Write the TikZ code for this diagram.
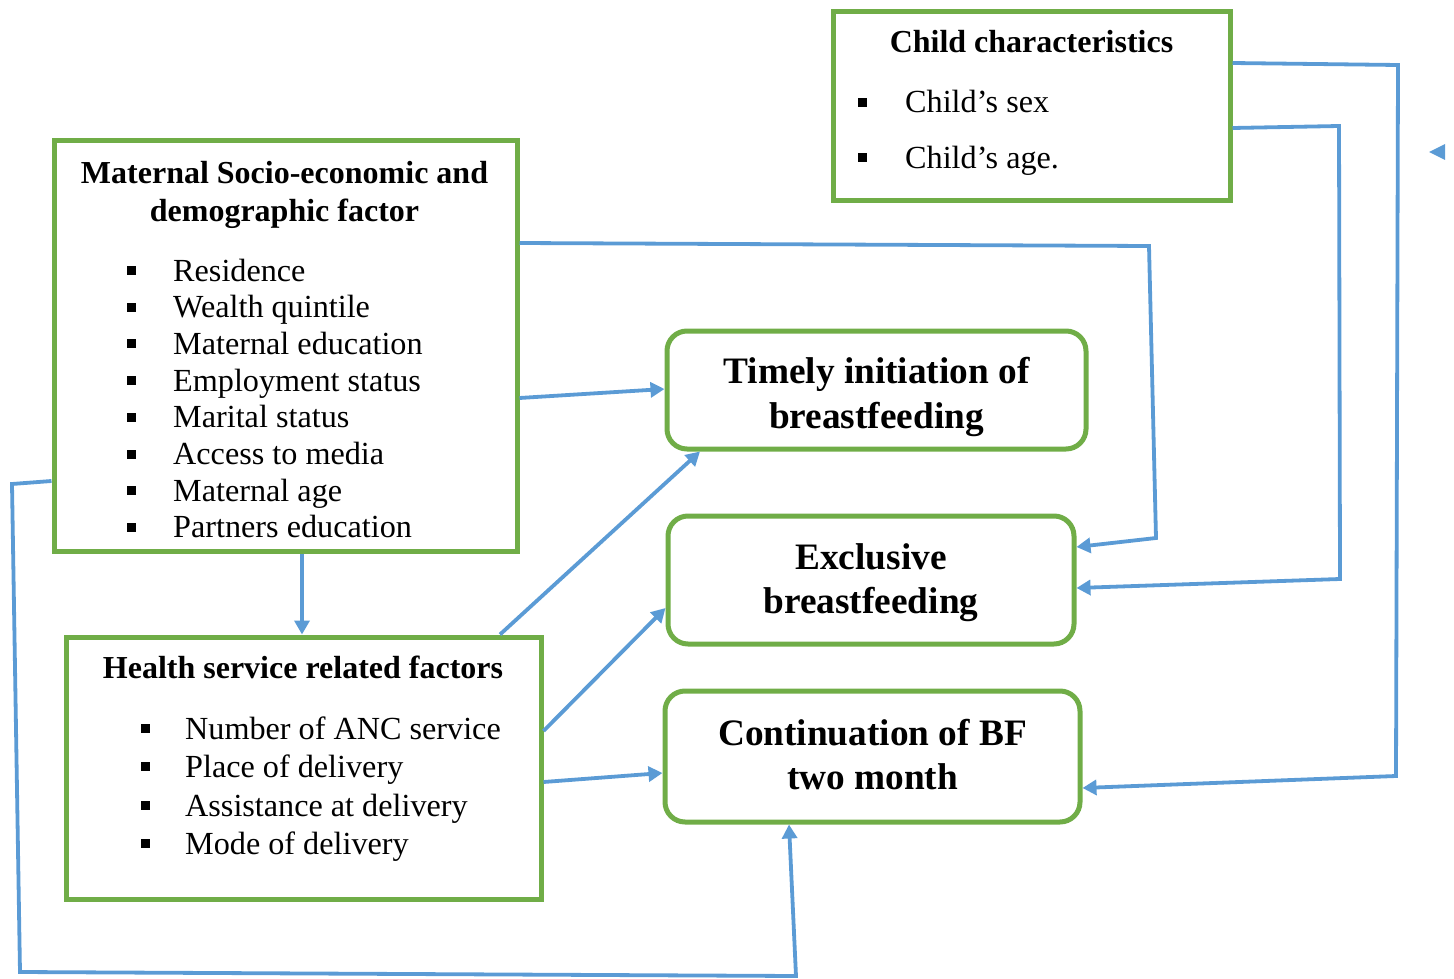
\documentclass[tikz,border=0pt]{standalone}
\usepackage{fontspec}
\setmainfont{Liberation Serif}
\usetikzlibrary{arrows.meta}
\definecolor{bgreen}{HTML}{70AD47}
\definecolor{lblue}{HTML}{5B9BD5}
\newcommand{\bsq}[1]{\makebox[#1][l]{\rule[6pt]{9pt}{9pt}}}
\begin{document}
\begin{tikzpicture}[x=1pt,y=-1pt,
  box/.style={draw=bgreen,line width=5pt,inner sep=0},
  rbox/.style={box,rounded corners=20pt},
  conn/.style={draw=lblue,line width=3.8pt},
  arr/.style={conn,-{Triangle[length=14pt,width=15pt]}},
  itm/.style={anchor=base west,inner sep=0,font=\fontsize{32.2}{36}\selectfont},
  ttl/.style={anchor=base,inner sep=0,font=\fontsize{32}{36}\selectfont\bfseries},
  outt/.style={anchor=base,inner sep=0,font=\fontsize{37.3}{44}\selectfont\bfseries}]
\useasboundingbox (0,0) rectangle (1454,979);

% boxes
\node[box,minimum width=397pt,minimum height=188pt] (child) at (1031.5,106) {};
\node[box,minimum width=463pt,minimum height=410pt] (mat) at (285.5,346) {};
\node[box,minimum width=475pt,minimum height=262pt] (hs) at (303.5,768) {};
\node[rbox,minimum width=419pt,minimum height=118pt] (tim) at (876.5,390) {};
\node[rbox,minimum width=406pt,minimum height=128pt] (exc) at (871,580) {};
\node[rbox,minimum width=415pt,minimum height=131pt] (con) at (872.5,756.5) {};

% child text
\node[ttl] (ct) at (1031.5,53) {Child characteristics};
\node[itm] (c1) at (858,113) {\bsq{47pt}Child’s sex};
\node[itm] (c2) at (858,168) {\bsq{47pt}Child’s age.};

% maternal text
\node[ttl] (mt1) at (284.5,183) {Maternal Socio-economic and};
\node[ttl] (mt2) at (284.5,221) {demographic factor};
\node[itm] (m1) at (127,281) {\bsq{46pt}Residence};
\node[itm] (m2) at (127,317.7) {\bsq{46pt}Wealth quintile};
\node[itm] (m3) at (127,354.4) {\bsq{46pt}Maternal education};
\node[itm] (m4) at (127,391.1) {\bsq{46pt}Employment status};
\node[itm] (m5) at (127,427.8) {\bsq{46pt}Marital status};
\node[itm] (m6) at (127,464.5) {\bsq{46pt}Access to media};
\node[itm] (m7) at (127,501.2) {\bsq{46pt}Maternal age};
\node[itm] (m8) at (127,537.9) {\bsq{46pt}Partners education};

% health text
\node[ttl] (ht) at (303,678) {Health service related factors};
\node[itm] (h1) at (141,739) {\bsq{44pt}Number of ANC service};
\node[itm] (h2) at (141,777) {\bsq{44pt}Place of delivery};
\node[itm] (h3) at (141,816) {\bsq{44pt}Assistance at delivery};
\node[itm] (h4) at (141,854) {\bsq{44pt}Mode of delivery};

% outcome text
\node[outt] (t1) at (876.5,383) {Timely initiation of};
\node[outt] (t2) at (876.5,428) {breastfeeding};
\node[outt] (e1) at (871,569) {Exclusive};
\node[outt] (e2) at (871,613) {breastfeeding};
\node[outt] (o1) at (872.5,745) {Continuation of BF};
\node[outt] (o2) at (872.5,789) {two month};

% connector bend points
\coordinate (ca) at (1398,65);
\coordinate (cb) at (1396,776);
\coordinate (cc) at (1339,126);
\coordinate (cd) at (1340,579);
\coordinate (ce) at (1149,246);
\coordinate (cf) at (1156,538);
\coordinate (cg) at (12,484);
\coordinate (ch) at (20,972);
\coordinate (ci) at (796,976);

% connectors
\draw[arr] (child.east |- 0,63) -- (ca) -- (cb) -- (con.east |- 0,788);
\draw[arr] (child.east |- 0,128) -- (cc) -- (cd) -- (exc.east |- 0,588);
\draw[arr] (mat.east |- 0,243) -- (ce) -- (cf) -- (exc.east |- 0,547);
\draw[arr] (mat.east |- 0,398) -- (tim.west |- 0,389);
\draw[arr] (mat.south -| 302,0) -- (hs.north -| 302,0);
\draw[arr] (hs.north -| 500,0) -- (tim.south -| 700,0);
\draw[arr] (hs.east |- 0,731) -- (exc.west |- 0,608);
\draw[arr] (hs.east |- 0,782) -- (con.west |- 0,773);
\draw[arr] (mat.west |- 0,481) -- (cg) -- (ch) -- (ci) -- (con.south -| 789,0);

% stray arrowhead
\fill[lblue] (1429,152) -- (1445,144) -- (1445,160) -- cycle;
\end{tikzpicture}
\end{document}
